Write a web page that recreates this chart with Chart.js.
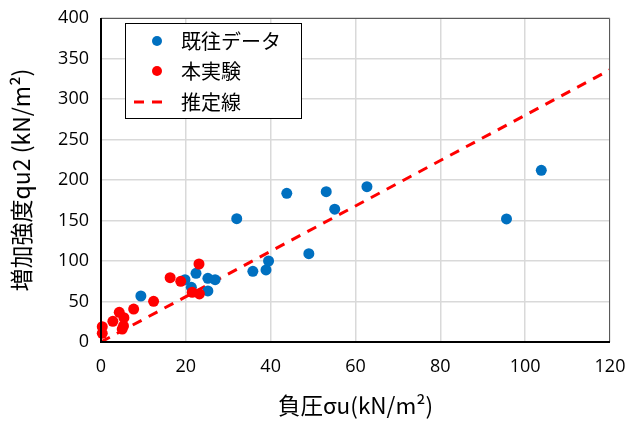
<!DOCTYPE html>
<html>
<head>
<meta charset="utf-8">
<script src="https://cdn.jsdelivr.net/npm/chart.js@4"></script>
<style>
  html, body { margin: 0; padding: 0; background: #fff; }
  #wrap { width: 644px; height: 421px; }
</style>
</head>
<body>
<div id="wrap"><canvas id="grafico"></canvas></div>
<script>
// 既往データ
const kiouX = [9.4, 19.8, 21.3, 22.4, 25.2, 25.2, 26.9, 32.0, 35.8, 38.9, 39.5, 43.8, 49.0, 53.1, 55.1, 62.7, 95.6, 103.8];
const kiouY = [56.8, 76.9, 67.5, 84.8, 78.6, 63.0, 76.9, 152.3, 87.3, 89.0, 100.0, 183.6, 109.0, 185.6, 164.0, 191.7, 152.0, 212.0];
// 本実験
const jikkenX = [0.3, 0.3, 2.8, 4.3, 5.0, 5.3, 5.4, 7.7, 12.4, 16.3, 18.8, 21.5, 23.1, 23.2];
const jikkenY = [10.7, 18.9, 25.5, 36.6, 16.0, 19.8, 30.0, 40.7, 50.2, 79.4, 74.9, 61.3, 96.3, 59.3];
// 推定線
const suiteiX = [0, 120];
const suiteiY = [0, 336];

const xTicks = [0, 20, 40, 60, 80, 100, 120];
const yTicks = [0, 50, 100, 150, 200, 250, 300, 350, 400];

const AZUL = "#0070C0";
const VERMELHO = "#FF0000";
const FONTE = "'Open Sans', 'Noto Sans CJK JP', sans-serif";
const FONTE_JP = "'Noto Sans CJK JP', 'Open Sans', sans-serif";

function pontos(xs, ys) {
    return xs.map((x, i) => ({ x: x, y: ys[i] }));
}

// legenda dentro da área do gráfico
const legendaInterna = {
    id: "legendaInterna",
    afterDraw(chart) {
        const c = chart.ctx;
        const x0 = 125, y0 = 23, w = 176, h = 95;
        c.save();
        c.fillStyle = "#fff";
        c.fillRect(x0, y0, w, h);
        c.strokeStyle = "#000";
        c.lineWidth = 1;
        c.strokeRect(x0 + 0.5, y0 + 0.5, w, h);
        c.font = "20px " + FONTE_JP;
        c.textBaseline = "middle";
        const itens = [
            { t: "既往データ", tipo: "ponto", cor: AZUL, y: 41 },
            { t: "本実験", tipo: "ponto", cor: VERMELHO, y: 71 },
            { t: "推定線", tipo: "linha", cor: VERMELHO, y: 102 }
        ];
        itens.forEach(it => {
            if (it.tipo === "ponto") {
                c.fillStyle = it.cor;
                c.beginPath();
                c.arc(157, it.y, 5, 0, Math.PI * 2);
                c.fill();
            } else {
                c.strokeStyle = it.cor;
                c.lineWidth = 3;
                c.setLineDash([10, 8]);
                c.beginPath();
                c.moveTo(134, it.y);
                c.lineTo(170, it.y);
                c.stroke();
                c.setLineDash([]);
            }
            c.fillStyle = "#000";
            c.fillText(it.t, 181, it.y);
        });
        c.restore();
    }
};

// moldura da área do gráfico
const moldura = {
    id: "moldura",
    afterDatasetsDraw(chart) {
        const a = chart.chartArea;
        const c = chart.ctx;
        c.save();
        c.strokeStyle = "#595959";
        c.lineWidth = 1;
        c.beginPath();
        c.moveTo(a.left, a.top + 0.5);
        c.lineTo(a.right - 0.5, a.top + 0.5);
        c.lineTo(a.right - 0.5, a.bottom);
        c.stroke();
        c.strokeStyle = "#000";
        c.lineWidth = 2;
        c.beginPath();
        c.moveTo(a.left, a.top);
        c.lineTo(a.left, a.bottom);
        c.lineTo(a.right, a.bottom);
        c.stroke();
        c.restore();
    }
};

new Chart(document.getElementById("grafico"), {
    type: "scatter",
    data: {
        datasets: [
            {
                label: "本実験",
                data: pontos(jikkenX, jikkenY),
                backgroundColor: VERMELHO,
                borderWidth: 0,
                pointRadius: 5.5,
                order: 0,
                clip: false
            },
            {
                label: "既往データ",
                data: pontos(kiouX, kiouY),
                backgroundColor: AZUL,
                borderWidth: 0,
                pointRadius: 5.5,
                order: 1,
                clip: false
            },
            {
                type: "line",
                label: "推定線",
                data: pontos(suiteiX, suiteiY),
                borderColor: VERMELHO,
                borderWidth: 3,
                borderDash: [10, 8],
                pointRadius: 0,
                fill: false,
                order: 2
            }
        ]
    },
    options: {
        responsive: true,
        maintainAspectRatio: false,
        animation: false,
        devicePixelRatio: 1,
        layout: { padding: { top: 18, right: 34, left: 0, bottom: 0 } },
        plugins: {
            legend: { display: false },
            tooltip: { enabled: false }
        },
        scales: {
            x: {
                type: "linear",
                min: 0,
                max: 120,
                afterBuildTicks: s => { s.ticks = xTicks.map(v => ({ value: v })); },
                afterFit: s => { s.height = 79; s.paddingLeft = 0; s.paddingRight = 0; },
                grid: { color: "#d9d9d9", lineWidth: 1.5, drawTicks: false },
                border: { display: false },
                ticks: { color: "#000", font: { family: FONTE, size: 18 }, padding: 14 },
                title: {
                    display: true,
                    text: "負圧σu(kN/m²)",
                    color: "#000",
                    font: { family: FONTE_JP, size: 22.5 },
                    padding: { top: 0, bottom: 2 }
                }
            },
            y: {
                type: "linear",
                min: 0,
                max: 400,
                afterBuildTicks: s => { s.ticks = yTicks.map(v => ({ value: v })); },
                afterFit: s => { s.width = 101; s.paddingTop = 0; s.paddingBottom = 0; },
                grid: { color: "#d9d9d9", lineWidth: 1.5, drawTicks: false },
                border: { display: false },
                ticks: { color: "#000", font: { family: FONTE, size: 18 }, padding: 12 },
                title: {
                    display: true,
                    text: "増加強度qu2 (kN/m²)",
                    color: "#000",
                    font: { family: FONTE_JP, size: 23 },
                    padding: { top: 7, bottom: 0 }
                }
            }
        }
    },
    plugins: [moldura, legendaInterna]
});
</script>
</body>
</html>
